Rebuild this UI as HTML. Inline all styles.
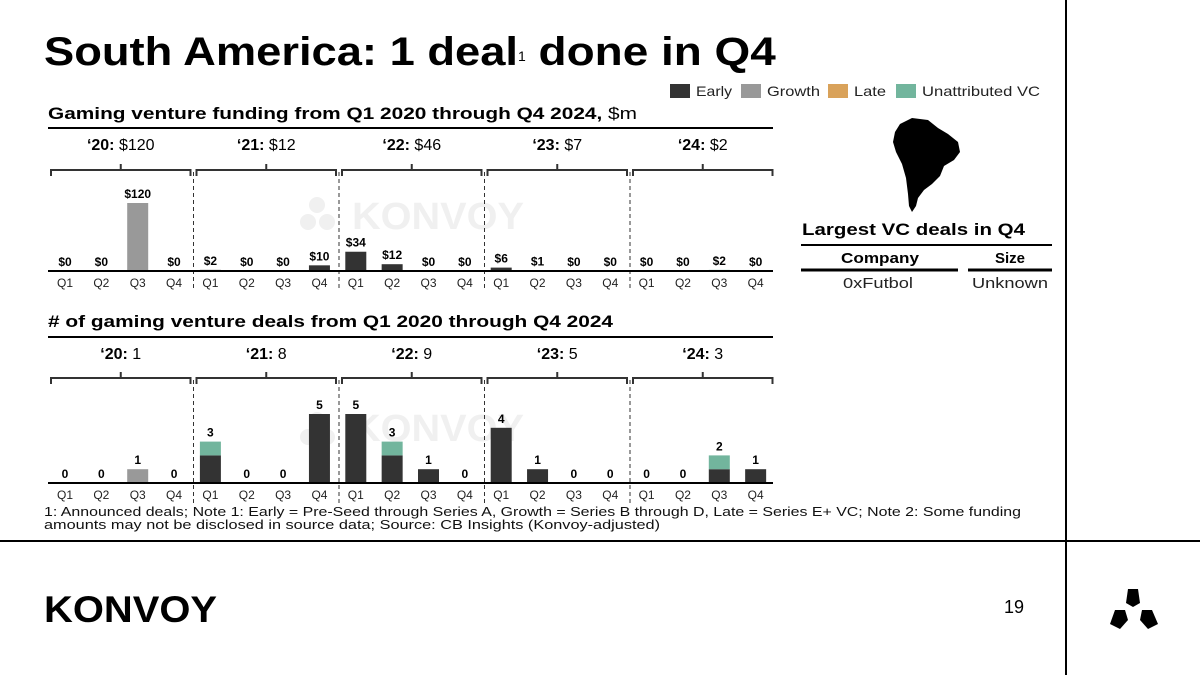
<!DOCTYPE html>
<html><head><meta charset="utf-8"><style>
body{margin:0;background:#fff;font-family:"Liberation Sans",sans-serif}
svg text{font-family:"Liberation Sans",sans-serif}
</style></head><body>
<svg id="s" width="1200" height="675" viewBox="0 0 1200 675" xmlns="http://www.w3.org/2000/svg">
<text x="44" y="65" font-size="40" font-weight="bold" fill="#000"><tspan textLength="474" lengthAdjust="spacingAndGlyphs">South America: 1 deal</tspan><tspan font-size="14" font-weight="normal" dy="-4">1</tspan><tspan dy="4" textLength="250" lengthAdjust="spacingAndGlyphs"> done in Q4</tspan></text>
<g font-size="14" fill="#222">
<rect x="670" y="84" width="20" height="14" fill="#333"/><text x="696" y="96" textLength="36" lengthAdjust="spacingAndGlyphs">Early</text>
<rect x="741" y="84" width="20" height="14" fill="#999"/><text x="767" y="96" textLength="53" lengthAdjust="spacingAndGlyphs">Growth</text>
<rect x="828" y="84" width="20" height="14" fill="#d9a25a"/><text x="854" y="96" textLength="32" lengthAdjust="spacingAndGlyphs">Late</text>
<rect x="896" y="84" width="20" height="14" fill="#72b59d"/><text x="922" y="96" textLength="118" lengthAdjust="spacingAndGlyphs">Unattributed VC</text>
</g>
<text x="48" y="119" font-size="17" font-weight="bold" textLength="589" lengthAdjust="spacingAndGlyphs">Gaming venture funding from Q1 2020 through Q4 2024, <tspan font-weight="normal">$m</tspan></text>
<line x1="48" y1="128" x2="773" y2="128" stroke="#000" stroke-width="2"/>
<text x="48" y="327" font-size="17" font-weight="bold" textLength="565" lengthAdjust="spacingAndGlyphs"># of gaming venture deals from Q1 2020 through Q4 2024</text>
<line x1="48" y1="337" x2="773" y2="337" stroke="#000" stroke-width="2"/>
<g fill="#f0f0f0" font-size="38" font-weight="bold"><text x="352" y="229" textLength="172" lengthAdjust="spacingAndGlyphs">KONVOY</text><circle cx="317" cy="205" r="8"/><circle cx="308" cy="222" r="8"/><circle cx="327" cy="222" r="8"/></g>
<g fill="#f0f0f0" font-size="38" font-weight="bold"><text x="352" y="441" textLength="172" lengthAdjust="spacingAndGlyphs">KONVOY</text><circle cx="317" cy="420" r="8"/><circle cx="308" cy="437" r="8"/><circle cx="327" cy="437" r="8"/></g>
<g id="charts"></g>
<g>
<path d="M900,124 L912,118 L928,120 L938,128 L948,134 L958,142 L960,152 L954,160 L944,166 L940,176 L932,184 L924,190 L918,198 L916,206 L912,212 L909,206 L908,194 L906,178 L902,164 L896,152 L893,142 L895,132 Z" fill="#000"/>
</g>
<text x="802" y="235" font-size="17" font-weight="bold" textLength="223" lengthAdjust="spacingAndGlyphs">Largest VC deals in Q4</text>
<line x1="801" y1="245" x2="1052" y2="245" stroke="#000" stroke-width="2"/>
<text x="880" y="263" font-size="15" font-weight="bold" text-anchor="middle" textLength="78" lengthAdjust="spacingAndGlyphs">Company</text>
<text x="1010" y="263" font-size="15" font-weight="bold" text-anchor="middle">Size</text>
<line x1="801" y1="270" x2="958" y2="270" stroke="#000" stroke-width="3"/>
<line x1="968" y1="270" x2="1052" y2="270" stroke="#000" stroke-width="3"/>
<text x="878" y="288" font-size="15" text-anchor="middle" fill="#222" textLength="70" lengthAdjust="spacingAndGlyphs">0xFutbol</text>
<text x="1010" y="288" font-size="15" text-anchor="middle" fill="#222" textLength="76" lengthAdjust="spacingAndGlyphs">Unknown</text>
<text x="44" y="516" font-size="13" fill="#111" textLength="977" lengthAdjust="spacingAndGlyphs">1: Announced deals; Note 1: Early = Pre-Seed through Series A, Growth = Series B through D, Late = Series E+ VC; Note 2: Some funding</text>
<text x="44" y="529" font-size="13" fill="#111" textLength="616" lengthAdjust="spacingAndGlyphs">amounts may not be disclosed in source data; Source: CB Insights (Konvoy-adjusted)</text>
<line x1="0" y1="541" x2="1200" y2="541" stroke="#000" stroke-width="2"/>
<line x1="1066" y1="0" x2="1066" y2="675" stroke="#000" stroke-width="2"/>
<text x="44" y="622" font-size="37" font-weight="bold" textLength="173" lengthAdjust="spacingAndGlyphs">KONVOY</text>
<text x="1024" y="613" font-size="18" text-anchor="end">19</text>
<g fill="#000">
<path d="M1128,589 L1138,589 L1140,603 L1133,607 L1126,603 Z"/>
<path d="M1115,610 L1125,610 L1128,620 L1120,629 L1110,624 Z"/>
<path d="M1142,610 L1152,610 L1158,624 L1148,629 L1140,620 Z"/>
</g>
</svg>
<script>
const quarters=["Q1","Q2","Q3","Q4","Q1","Q2","Q3","Q4","Q1","Q2","Q3","Q4","Q1","Q2","Q3","Q4","Q1","Q2","Q3","Q4"];
const years=["'20","'21","'22","'23","'24"];
const fundEarly=[0,0,0,0,2,0,0,10,34,12,0,0,6,1,0,0,0,0,0,0];
const fundGrowth=[0,0,120,0,0,0,0,0,0,0,0,0,0,0,0,0,0,0,0,0];
const fundLate=[0,0,0,0,0,0,0,0,0,0,0,0,0,0,0,0,0,0,0,0];
const fundUnattr=[0,0,0,0,0,0,0,0,0,0,0,0,0,0,0,0,0,0,2,0];
const fundYearTotals=["$120","$12","$46","$7","$2"];
const dealEarly=[0,0,0,0,2,0,0,5,5,2,1,0,4,1,0,0,0,0,1,1];
const dealGrowth=[0,0,1,0,0,0,0,0,0,0,0,0,0,0,0,0,0,0,0,0];
const dealLate=[0,0,0,0,0,0,0,0,0,0,0,0,0,0,0,0,0,0,0,0];
const dealUnattr=[0,0,0,0,1,0,0,0,0,1,0,0,0,0,0,0,0,0,1,0];
const dealYearTotals=["1","8","9","5","3"];
const NS="http://www.w3.org/2000/svg";
const root=document.getElementById('charts');
function mk(t,a,p){const e=document.createElementNS(NS,t);for(const k in a)e.setAttribute(k,a[k]);(p||root).appendChild(e);return e;}
const x=i=>65+i*36.35;
const colors=["#333","#999","#d9a25a","#72b59d"];
function chart(cfg){
  const g=mk('g',{});
  
  
  const y=v=>cfg.base-v*cfg.k;
  for(let yi=0;yi<5;yi++){
    const x0=48+yi*145.5+3,x1=48+(yi+1)*145.5-3,cx=(x0+x1)/2;
    const t=mk('text',{x:cx,y:cfg.labY,'font-size':16,'text-anchor':'middle'},g);
    
    
    t.innerHTML='<tspan font-weight="bold">'+years[yi].replace("'","\u2018")+':</tspan> '+cfg.tot[yi];
    const b=mk('path',{d:`M${x0},${cfg.brY+6} V${cfg.brY} H${x1} V${cfg.brY+6} M${cx},${cfg.brY} V${cfg.brY-6}`,fill:'none',stroke:'#333','stroke-width':2},g);
    
    
    if(yi>0){const d=mk('line',{x1:48+yi*145.5,x2:48+yi*145.5,y1:cfg.brY+2,y2:cfg.base+20,stroke:'#333','stroke-dasharray':'4,3'},g);
      
      }
  }
  for(let i=0;i<20;i++){
    let acc=0;
    cfg.series.forEach((s,si)=>{const v=s[i];if(v>0){
      const r=mk('rect',{x:x(i)-10.5,y:y(acc+v),width:21,height:v*cfg.k,fill:colors[si]},g);
      
      
      acc+=v;}});
    const lt=mk('text',{x:x(i),y:y(acc)-5,'font-size':12,'font-weight':'bold','text-anchor':'middle'},g);
    
    
    lt.textContent=cfg.fmt(acc);
    const q=mk('text',{x:x(i),y:cfg.base+16,'font-size':12,'text-anchor':'middle',fill:'#222'},g);
    
    
    q.textContent=quarters[i];
  }
  const ax=mk('line',{x1:48,x2:773,y1:cfg.base,y2:cfg.base,stroke:'#000','stroke-width':2},g);
  
  
}
chart({name:'funding-chart',base:271,k:68/120,labY:150,brY:170,tot:fundYearTotals,series:[fundEarly,fundGrowth,fundLate,fundUnattr],fmt:v=>'$'+v});
chart({name:'deals-chart',base:483,k:13.8,labY:359,brY:378,tot:dealYearTotals,series:[dealEarly,dealGrowth,dealLate,dealUnattr],fmt:v=>''+v});
</script>
</body></html>
